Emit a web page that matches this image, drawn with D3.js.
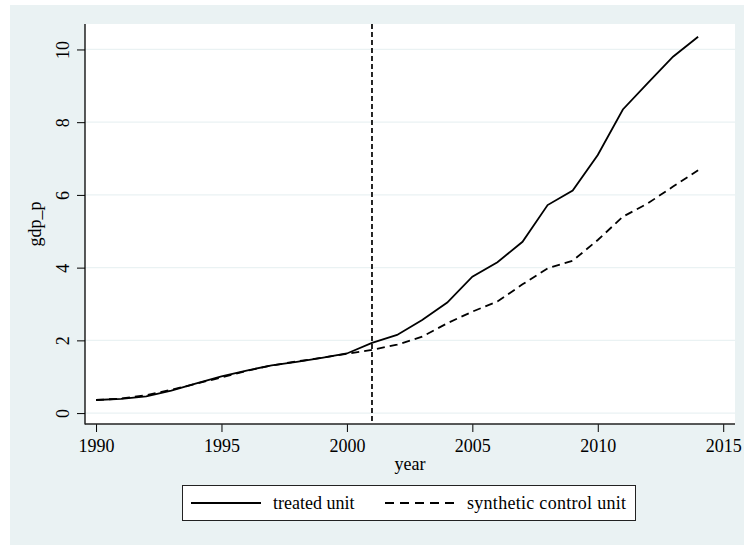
<!DOCTYPE html>
<html>
<head>
<meta charset="utf-8">
<script src="https://cdn.jsdelivr.net/npm/d3@7"></script>
<style>
  html, body { margin: 0; padding: 0; background: #ffffff; }
  svg text { font-family: "Liberation Serif", "Times New Roman", serif; fill: #000; }
</style>
</head>
<body>
<svg id="chart" width="744" height="545"></svg>
<script>
// Yearly observations, 1990-2014
const years = [1990, 1991, 1992, 1993, 1994, 1995, 1996, 1997, 1998, 1999, 2000, 2001, 2002,
               2003, 2004, 2005, 2006, 2007, 2008, 2009, 2010, 2011, 2012, 2013, 2014];
// gdp_p of the treated unit
const treated = [0.36, 0.39, 0.46, 0.62, 0.82, 1.01, 1.17, 1.31, 1.41, 1.52, 1.64, 1.93, 2.15,
                 2.56, 3.04, 3.75, 4.15, 4.71, 5.72, 6.12, 7.10, 8.35, 9.08, 9.80, 10.35];
// gdp_p of the synthetic control unit
const synthetic = [0.36, 0.40, 0.49, 0.64, 0.81, 0.98, 1.16, 1.31, 1.42, 1.52, 1.63, 1.74, 1.88,
                   2.10, 2.47, 2.79, 3.07, 3.54, 3.98, 4.19, 4.76, 5.40, 5.77, 6.23, 6.68];
const treatmentYear = 2001;
const xTicks = [1990, 1995, 2000, 2005, 2010, 2015];
const yTicks = [0, 2, 4, 6, 8, 10];
const seriesNames = ["treated unit", "synthetic control unit"];

const svg = d3.select("#chart");
const W = 744, H = 545;
const plot = { left: 85, right: 735, top: 24, bottom: 424 };
const bg = "#eaf2f3";
const fontSize = 18;

// graph region
svg.append("rect").attr("x", 10).attr("y", 5).attr("width", W - 10).attr("height", H - 5).attr("fill", bg);
// plot region
svg.append("rect").attr("x", plot.left).attr("y", plot.top)
  .attr("width", plot.right - plot.left).attr("height", plot.bottom - plot.top).attr("fill", "#ffffff");

const x = d3.scaleLinear().domain([1989.56, 2015.47]).range([plot.left, plot.right]);
const y = d3.scaleLinear().domain([-0.3, 10.7]).range([plot.bottom, plot.top]);

// horizontal grid lines
svg.append("g").selectAll("line").data(yTicks).join("line")
  .attr("x1", plot.left).attr("x2", plot.right)
  .attr("y1", d => y(d)).attr("y2", d => y(d))
  .attr("stroke", bg).attr("stroke-width", 1.3);

// x axis
const xAxis = svg.append("g").attr("transform", `translate(0,${plot.bottom})`)
  .call(d3.axisBottom(x).tickValues(xTicks).tickFormat(d3.format("d")).tickSize(8).tickPadding(7));
xAxis.select(".domain").remove();
xAxis.selectAll(".tick line").attr("stroke", "#000").attr("stroke-width", 1);
xAxis.selectAll(".tick text").attr("font-size", fontSize);

// y axis with rotated tick labels
const yAxis = svg.append("g").attr("transform", `translate(${plot.left},0)`)
  .call(d3.axisLeft(y).tickValues(yTicks).tickFormat(d3.format("d")).tickSize(8));
yAxis.select(".domain").remove();
yAxis.selectAll(".tick line").attr("stroke", "#000").attr("stroke-width", 1);
yAxis.selectAll(".tick text")
  .attr("x", null).attr("dy", null)
  .attr("transform", "translate(-16,0) rotate(-90)")
  .attr("text-anchor", "middle")
  .attr("font-size", fontSize);

// axis lines
svg.append("line").attr("x1", plot.left).attr("x2", plot.left)
  .attr("y1", plot.top).attr("y2", plot.bottom + 0.6).attr("stroke", "#000").attr("stroke-width", 1.3);
svg.append("line").attr("x1", plot.left).attr("x2", plot.right)
  .attr("y1", plot.bottom).attr("y2", plot.bottom).attr("stroke", "#222").attr("stroke-width", 1.3);

// axis titles
svg.append("text").attr("x", (plot.left + plot.right) / 2).attr("y", 470)
  .attr("text-anchor", "middle").attr("font-size", fontSize).text("year");
svg.append("text").attr("transform", `translate(41,${(plot.top + plot.bottom) / 2}) rotate(-90)`)
  .attr("text-anchor", "middle").attr("font-size", fontSize).text("gdp_p");

// series lines
const line = d3.line().x((d, i) => x(years[i])).y(d => y(d));
svg.append("path").datum(synthetic).attr("d", line)
  .attr("fill", "none").attr("stroke", "#000").attr("stroke-width", 1.8)
  .attr("stroke-dasharray", "8,5");
svg.append("path").datum(treated).attr("d", line)
  .attr("fill", "none").attr("stroke", "#000").attr("stroke-width", 1.8);

// treatment year reference line
svg.append("line").attr("x1", x(treatmentYear)).attr("x2", x(treatmentYear))
  .attr("y1", plot.top).attr("y2", plot.bottom)
  .attr("stroke", "#000").attr("stroke-width", 1.7).attr("stroke-dasharray", "5,3");

// legend
const lg = svg.append("g");
lg.append("rect").attr("x", 182.5).attr("y", 485.5).attr("width", 453).attr("height", 35)
  .attr("fill", "#ffffff").attr("stroke", "#222").attr("stroke-width", 1);
lg.append("line").attr("x1", 191).attr("x2", 261).attr("y1", 503).attr("y2", 503)
  .attr("stroke", "#000").attr("stroke-width", 1.8);
lg.append("text").attr("x", 273).attr("y", 509).attr("font-size", fontSize).text(seriesNames[0]);
lg.append("line").attr("x1", 385).attr("x2", 456).attr("y1", 503).attr("y2", 503)
  .attr("stroke", "#000").attr("stroke-width", 1.8).attr("stroke-dasharray", "9,6");
lg.append("text").attr("x", 467).attr("y", 509).attr("font-size", fontSize)
  .attr("textLength", 159).text(seriesNames[1]);
</script>
</body>
</html>
